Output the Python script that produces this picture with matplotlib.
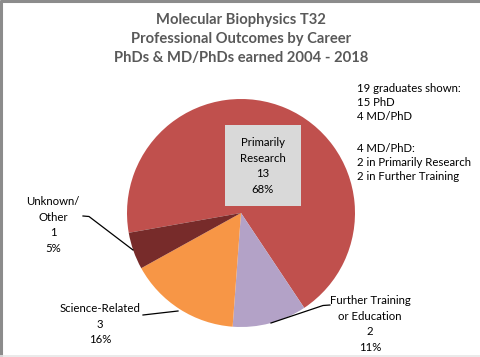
import matplotlib
matplotlib.use("Agg")
import matplotlib.pyplot as plt
from matplotlib.patches import Rectangle

plt.rcParams['font.family'] = ['Lato', 'DejaVu Sans']

# data
categories = ['Primarily\nResearch', 'Further Training\nor Education', 'Science-Related', 'Unknown/\nOther']
counts = [13, 2, 3, 1]
colors = ['#C0504D', '#B3A2C7', '#F79646', '#772B2A']
title_lines = ['Molecular Biophysics T32', 'Professional Outcomes by Career',
               'PhDs & MD/PhDs earned 2004 - 2018']
note1 = ['19 graduates shown:', '15 PhD', '4 MD/PhD']
note2 = ['4 MD/PhD:', '2 in Primarily Research', '2 in Further Training']

W, H = 480, 357
fig = plt.figure(figsize=(W / 100, H / 100), dpi=100)
ax = fig.add_axes([0, 0, 1, 1])


def py(y):
    # pixel row (from top) -> data y
    return H - y


cx, cy, r = 241, py(213), 114
wedges, _ = ax.pie(counts, colors=colors, startangle=190, counterclock=False,
                   center=(cx, cy), radius=r, wedgeprops=dict(linewidth=0))
ax.set_xlim(0, W)
ax.set_ylim(0, H)
ax.set_aspect('equal')
ax.axis('off')

total = sum(counts)
pct = [f'{round(c / total * 100)}%' for c in counts]

# frame
ax.plot([1, 1], [0, H], color='#8c8c8c', lw=2.2, solid_capstyle='butt')
ax.plot([0, W], [H - 1, H - 1], color='#8c8c8c', lw=2.2, solid_capstyle='butt')
ax.plot([0, W], [py(355.5), py(355.5)], color='#e6e6e6', lw=1.2)

# title
for i, t in enumerate(title_lines):
    ax.text(241, py(20 + 19 * i), t, ha='center', va='center', fontsize=10.6,
            fontweight='bold', color='#595959')

# notes
fs = 8.2
for i, t in enumerate(note1):
    ax.text(357, py(88 + 14.5 * i), t, ha='left', va='center', fontsize=fs, color='black')
for i, t in enumerate(note2):
    ax.text(357, py(149 + 14 * i), t, ha='left', va='center', fontsize=fs, color='black')

lab_kw = dict(ha='center', va='center', fontsize=fs, color='black', linespacing=1.55)

# Primarily Research label in box
ax.add_patch(Rectangle((225, py(206)), 76, 81, facecolor='#D9D9D9', edgecolor='none'))
ax.text(263, py(166), f'{categories[0]}\n{counts[0]}\n{pct[0]}', **lab_kw)

# Further Training
ax.text(370, py(324), f'{categories[1]}\n{counts[1]}\n{pct[1]}', **lab_kw)
ax.plot([330, 323, 271], [py(305), py(305.5), py(323)], color='black', lw=0.9)

# Science-Related
ax.text(100, py(324), f'{categories[2]}\n{counts[2]}\n{pct[2]}', **lab_kw)
ax.plot([143, 178], [py(315), py(311)], color='black', lw=0.9)

# Unknown/Other
ax.text(53, py(225), f'{categories[3]}\n{counts[3]}\n{pct[3]}', **lab_kw)
ax.plot([83, 89, 133], [py(216), py(216.5), py(250)], color='black', lw=0.9)

fig.savefig('out.png', dpi=100)
